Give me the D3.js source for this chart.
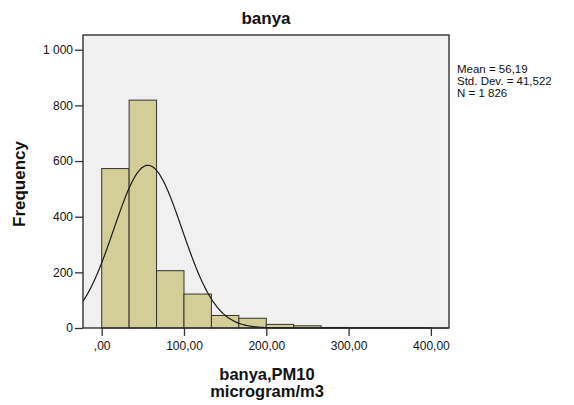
<!DOCTYPE html>
<html>
<head>
<meta charset="utf-8">
<script src="https://cdn.jsdelivr.net/npm/d3@7"></script>
<style>
  html, body { margin: 0; padding: 0; background: #fff; }
  svg { display: block; }
  text { font-family: "Liberation Sans", Arial, sans-serif; fill: #111; }
</style>
</head>
<body>
<svg id="chart" width="574" height="405"></svg>
<script>
// Histogram of banya PM10 (microgram/m3), bin width 100/3
const binStarts = [0, 33.333, 66.667, 100, 133.333, 166.667, 200, 233.333, 266.667, 300, 333.333, 366.667];
const binWidth = 100 / 3;
const frequencies = [573, 819, 206, 122, 45, 35, 13, 8, 2, 1, 1, 1];
const xTicks = [0, 100, 200, 300, 400];
const yTicks = [0, 200, 400, 600, 800, 1000];
const stats = { mean: 56.19, sd: 41.522, n: 1826 };
const statLines = ["Mean = 56,19", "Std. Dev. = 41,522", "N = 1 826"];

const svg = d3.select("#chart");
const plot = { left: 83, right: 449, top: 35, bottom: 328 };

const x = d3.scaleLinear().domain([-22.7, 422]).range([plot.left, plot.right]);
const y = d3.scaleLinear().domain([0, 1053]).range([plot.bottom, plot.top]);

// plot background
svg.append("rect")
  .attr("x", plot.left).attr("y", plot.top)
  .attr("width", plot.right - plot.left).attr("height", plot.bottom - plot.top)
  .attr("fill", "#f0f0f0");

// bars
const bins = binStarts.map((s, i) => ({ x0: s, x1: s + binWidth, f: frequencies[i] }));
svg.append("g").selectAll("rect").data(bins).join("rect")
  .attr("x", d => x(d.x0))
  .attr("y", d => y(d.f))
  .attr("width", d => x(d.x1) - x(d.x0))
  .attr("height", d => y(0) - y(d.f))
  .attr("fill", "#d3ce97")
  .attr("stroke", "#333")
  .attr("stroke-width", 1);

// normal curve scaled to counts per bin
const scaleK = stats.n * binWidth / (stats.sd * Math.sqrt(2 * Math.PI));
const curvePts = d3.range(-22.7, 422.01, 1).map(v => [v, scaleK * Math.exp(-0.5 * ((v - stats.mean) / stats.sd) ** 2)]);
svg.append("path")
  .datum(curvePts)
  .attr("d", d3.line().x(d => x(d[0])).y(d => y(d[1])).curve(d3.curveBasis))
  .attr("fill", "none")
  .attr("stroke", "#1a1a1a")
  .attr("stroke-width", 1.2);

// frame
svg.append("rect")
  .attr("x", plot.left).attr("y", plot.top)
  .attr("width", plot.right - plot.left).attr("height", plot.bottom - plot.top)
  .attr("fill", "none").attr("stroke", "#222").attr("stroke-width", 1.3);

const fmtX = v => v === 0 ? ",00" : d3.format(".2f")(v).replace(".", ",");
const fmtY = v => v >= 1000 ? d3.format(",")(v).replace(",", " ") : String(v);

// axes
const xAxis = svg.append("g")
  .attr("transform", `translate(0,${plot.bottom})`)
  .call(d3.axisBottom(x).tickValues(xTicks).tickFormat(fmtX).tickSize(8).tickPadding(5));
const yAxis = svg.append("g")
  .attr("transform", `translate(${plot.left},0)`)
  .call(d3.axisLeft(y).tickValues(yTicks).tickFormat(fmtY).tickSize(8).tickPadding(2));
[xAxis, yAxis].forEach(g => {
  g.select(".domain").remove();
  g.selectAll(".tick line").attr("stroke", "#333").attr("stroke-width", 1.3);
  g.selectAll(".tick text").attr("font-size", 12).attr("fill", "#333")
    .attr("font-family", "'Liberation Sans', Arial, sans-serif");
});

// title
svg.append("text")
  .attr("x", 266).attr("y", 24)
  .attr("text-anchor", "middle")
  .attr("font-size", 17).attr("font-weight", "bold")
  .text("banya");

// axis titles
svg.append("text")
  .attr("transform", "translate(25,184) rotate(-90)")
  .attr("text-anchor", "middle")
  .attr("font-size", 17).attr("font-weight", "bold")
  .text("Frequency");

const xTitle = svg.append("text")
  .attr("text-anchor", "middle")
  .attr("font-size", 16.5).attr("font-weight", "bold");
xTitle.append("tspan").attr("x", 267).attr("y", 380).text("banya,PM10");
xTitle.append("tspan").attr("x", 267).attr("y", 397).text("microgram/m3");

// statistics legend
svg.append("g").selectAll("text").data(statLines).join("text")
  .attr("x", 457)
  .attr("y", (d, i) => 73 + i * 12)
  .attr("font-size", 11.5)
  .attr("fill", "#222")
  .text(d => d);
</script>
</body>
</html>
